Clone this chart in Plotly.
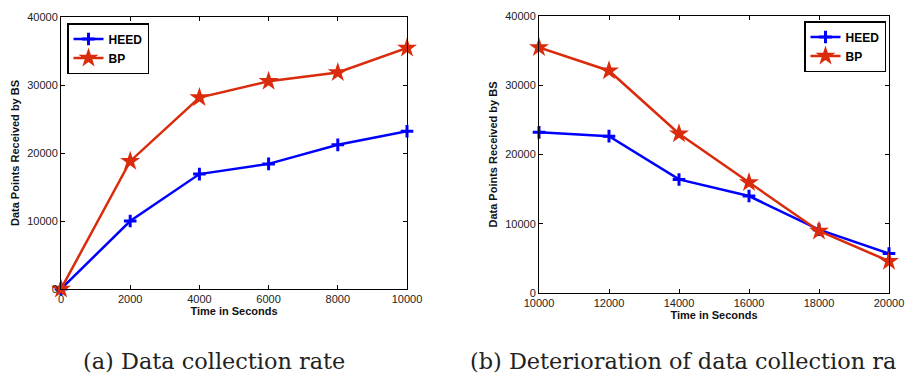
import plotly.graph_objects as go

# Data
time_a = [0, 2000, 4000, 6000, 8000, 10000]
heed_a = [0, 10000, 16900, 18400, 21200, 23200]
bp_a = [0, 18800, 28150, 30550, 31850, 35450]

time_b = [10000, 12000, 14000, 16000, 18000, 20000]
heed_b = [23200, 22650, 16400, 14000, 9150, 5700]
bp_b = [35450, 32100, 23000, 15950, 8950, 4600]

y_ticks = [0, 10000, 20000, 30000, 40000]
x_ticks_a = [0, 2000, 4000, 6000, 8000, 10000]
x_ticks_b = [10000, 12000, 14000, 16000, 18000, 20000]

caption_a = "(a) Data collection rate"
caption_b = "(b) Deterioration of data collection ra"  # cut at the right edge, as in the reference

BLUE = "rgb(0,0,255)"
RED = "rgb(218,44,12)"
W, H = 906, 375

fig = go.Figure()

def add_pair(x, h, b, xa, ya, leg):
    fig.add_trace(go.Scatter(x=x, y=h, name="HEED", mode="lines+markers",
                             line=dict(color=BLUE, width=2.5),
                             marker=dict(symbol="cross-thin", size=9, color=BLUE,
                                         line=dict(color=BLUE, width=3)),
                             xaxis=xa, yaxis=ya, legend=leg, cliponaxis=False))
    fig.add_trace(go.Scatter(x=x, y=b, name="BP", mode="lines+markers",
                             line=dict(color=RED, width=2.5),
                             marker=dict(symbol="star", size=15, color=RED,
                                         line=dict(color=RED, width=0)),
                             xaxis=xa, yaxis=ya, legend=leg, cliponaxis=False))

add_pair(time_a, heed_a, bp_a, "x", "y", "legend")
add_pair(time_b, heed_b, bp_b, "x2", "y2", "legend2")

tickfont = dict(family="Liberation Sans, Arial, sans-serif", size=11, color="#222")
titlefont = dict(family="Liberation Sans, Arial, sans-serif", size=11, color="#111", weight="bold")
legfont = dict(family="Liberation Sans, Arial, sans-serif", size=12, color="black", weight="bold")

def px(v):
    return v / W
def py(v):
    return (H - v) / H

common_x = dict(showgrid=False, zeroline=False, showline=True, linecolor="black", linewidth=1,
                mirror="ticks", ticks="inside", ticklen=4, tickcolor="black", automargin=False,
                ticklabeloverflow="allow",
                tickfont=tickfont, title=dict(text="Time in Seconds", font=titlefont, standoff=3))
common_y = dict(showgrid=False, zeroline=False, showline=True, linecolor="black", linewidth=1,
                mirror="ticks", ticks="inside", ticklen=4, tickcolor="black", automargin=False,
                tickfont=tickfont, tickvals=y_ticks, ticktext=[str(v) for v in y_ticks],
                range=[0, 40000],
                title=dict(text="Data Points Received by BS", font=titlefont, standoff=5))

fig.update_layout(
    width=W, height=H,
    margin=dict(l=0, r=0, t=0, b=0, autoexpand=False),
    paper_bgcolor="white", plot_bgcolor="white",
    showlegend=True,
    xaxis=dict(common_x, domain=[px(61), px(407)], range=[0, 10000], tickvals=x_ticks_a,
               ticktext=[str(v) for v in x_ticks_a], anchor="y"),
    yaxis=dict(common_y, domain=[py(289), py(17)], anchor="x"),
    xaxis2=dict(common_x, domain=[px(539), px(889)], range=[10000, 20000], tickvals=x_ticks_b,
                ticktext=[str(v) for v in x_ticks_b], anchor="y2"),
    yaxis2=dict(common_y, domain=[py(293), py(16)], anchor="x2"),
    legend=dict(x=px(67), y=py(23), xanchor="left", yanchor="top",
                bgcolor="white", bordercolor="black", borderwidth=1.5,
                font=legfont, tracegroupgap=0, itemwidth=30),
    legend2=dict(x=px(804), y=py(21), xanchor="left", yanchor="top",
                 bgcolor="white", bordercolor="black", borderwidth=1.5,
                 font=legfont, tracegroupgap=0, itemwidth=30),
    annotations=[
        dict(text=caption_a, x=px(81), y=py(361), xref="paper", yref="paper",
             xanchor="left", yanchor="middle", showarrow=False,
             font=dict(family="DejaVu Serif, serif", size=22.4, color="#222")),
        dict(text=caption_b, x=px(468), y=py(361), xref="paper", yref="paper",
             xanchor="left", yanchor="middle", showarrow=False,
             font=dict(family="DejaVu Serif, serif", size=22.4, color="#222")),
    ],
)

fig.write_html("out.html",
               config={"displayModeBar": False},
               post_script="document.body.style.margin='0';document.body.style.overflow='hidden';")
